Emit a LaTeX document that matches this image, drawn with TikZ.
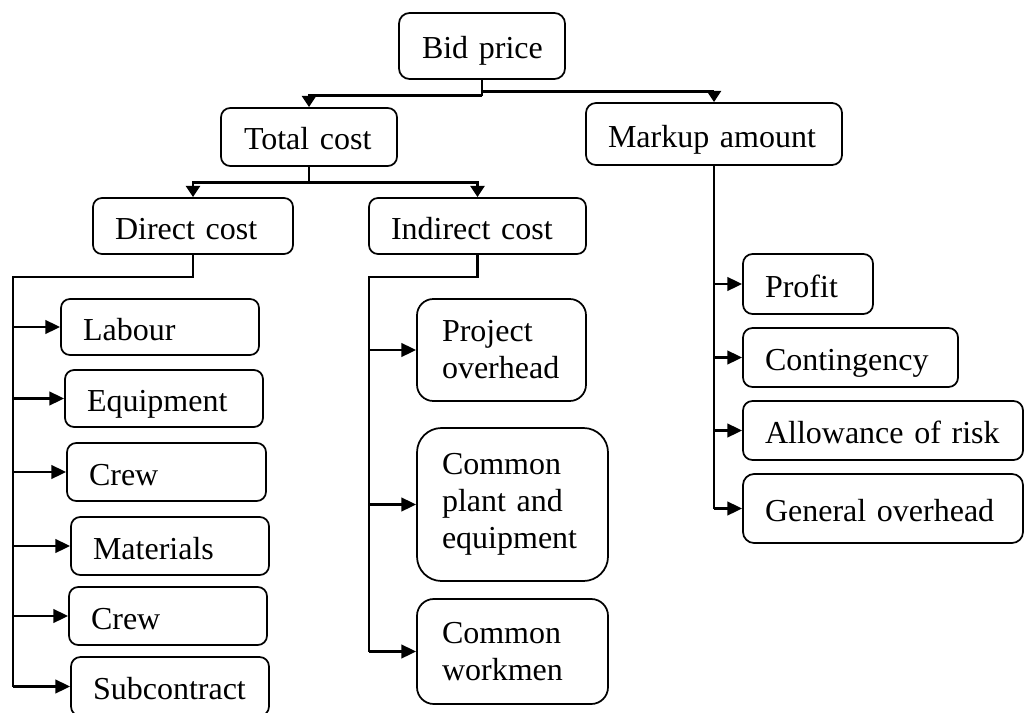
\documentclass[tikz,border=0pt]{standalone}
\usepackage{fontspec}
\setmainfont{Liberation Serif}
\usetikzlibrary{arrows.meta}
\newcommand{\ii}{\hspace*{\bi pt}}
% name, x1, y1, x2, y2, inset(px), options, text
\newcommand{\mybox}[8]{%
  \pgfmathsetmacro\bw{(#4-#2)*0.75}%
  \pgfmathsetmacro\bh{(#5-#3)*0.75}%
  \pgfmathsetmacro\br{0.16*min(\bw,\bh)}%
  \pgfmathsetmacro\bi{#6*0.75-0.75}%
  \pgfmathsetmacro\tw{\bw-1.5}%
  \node[box,#7,rounded corners=\br pt,minimum width=\bw pt,minimum height=\bh pt,
        text width=\tw pt,inner xsep=0.75pt] (#1) at ({(#2+#4)/2},{(#3+#5)/2})
        {\ii#8};%
}
\begin{document}
\begin{tikzpicture}[x=0.75pt,y=-0.75pt,
  box/.style={draw,line width=1.3pt,align=left,inner ysep=0pt,
    font=\fontsize{24}{27.75}\selectfont},
  one/.style={text height=20.5pt,text depth=1pt},
  multi/.style={},
  conn/.style={line width=2.1pt},
  arr/.style={conn,-{Triangle[length=11pt,width=10pt]}},
  arrS/.style={conn,-{Triangle[length=8.5pt,width=10.5pt]}}]
\useasboundingbox (0,0) rectangle (1024,713);

\mybox{bid}{399}{13}{565}{79}{23}{one}{Bid price}
\mybox{total}{221}{108}{397}{166}{23}{one}{Total cost}
\mybox{markup}{586}{103}{842}{165}{22}{one}{Markup amount}
\mybox{direct}{93}{198}{293}{254}{22}{one}{Direct cost}
\mybox{indirect}{369}{198}{586}{254}{22}{one}{Indirect cost}

\mybox{labour}{61}{299}{259}{355}{22}{one}{Labour}
\mybox{equipment}{65}{370}{263}{427}{22}{one}{Equipment}
\mybox{crewa}{67}{443}{266}{501}{22}{one}{Crew}
\mybox{materials}{71}{517}{269}{575}{22}{one}{Materials}
\mybox{crewb}{69}{587}{267}{645}{22}{one}{Crew}
\mybox{subcontract}{71}{657}{269}{716}{22}{one}{Subcontract}

\mybox{project}{417}{299}{586}{401}{25}{multi}{Project\\\ii overhead}
\mybox{plant}{417}{428}{608}{581}{25}{multi}{Common\\\ii plant and\\\ii equipment}
\mybox{workmen}{417}{599}{608}{704}{25}{multi}{Common\\\ii workmen}

\mybox{profit}{743}{254}{873}{314}{22}{one}{Profit}
\mybox{contingency}{743}{328}{958}{387}{22}{one}{Contingency}
\mybox{allowance}{743}{401}{1023}{460}{22}{one}{Allowance of risk}
\mybox{general}{743}{474}{1023}{543}{22}{one}{General overhead}

% Bid price -> Total cost / Markup amount
\draw[conn] (bid.south) -- ++(0,16) coordinate (bl);
\path (bid.south) ++(0,12) coordinate (br);
\draw[arrS] (bl) -| (total.north);
\draw[arrS] (br) -| (markup.north);

% Total cost -> Direct / Indirect
\draw[conn] (total.south) -- ++(0,16) coordinate (tj);
\draw[arrS] (tj) -| (direct.north);
\draw[arrS] (tj) -| (indirect.north);

% Direct cost trunk
\coordinate (dt) at (13,277);
\draw[conn] (direct.south) |- (dt) -- (dt |- subcontract.west);
\foreach \n in {labour,equipment,crewa,materials,crewb,subcontract}
  \draw[arr] (dt |- \n.west) -- (\n.west);

% Indirect cost trunk
\coordinate (it) at (369,277);
\draw[conn] (indirect.south) |- (it) -- (it |- workmen.west);
\foreach \n in {project,plant,workmen}
  \draw[arr] (it |- \n.west) -- (\n.west);

% Markup trunk
\draw[conn] (markup.south) -- (markup.south |- general.west);
\foreach \n in {profit,contingency,allowance,general}
  \draw[arr] (markup.south |- \n.west) -- (\n.west);
\end{tikzpicture}
\end{document}
